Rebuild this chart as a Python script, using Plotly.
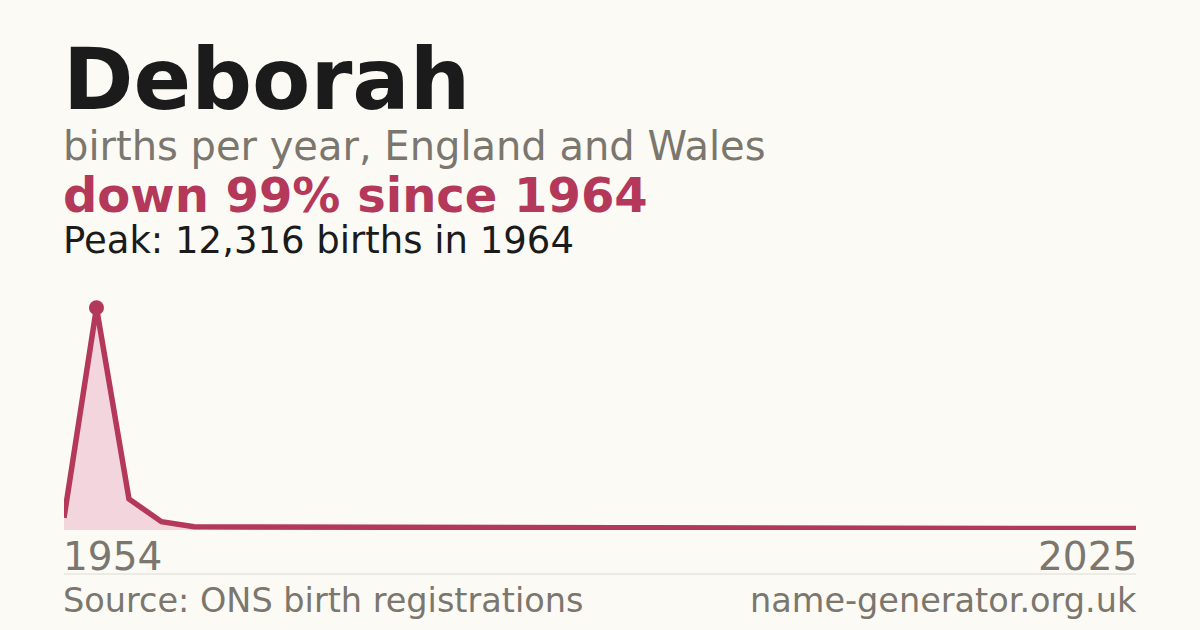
import plotly.graph_objects as go

# births per year for "Deborah" (ONS)
years = [1954, 1964, 1974, 1984] + list(range(1996, 2026))
births = [680, 12316, 1720, 460,
          180, 170, 165, 160, 150, 150, 145, 140, 140, 135,
          130, 130, 125, 120, 120, 115, 115, 110, 105, 105,
          100, 100, 95, 95, 90, 90, 85, 85, 80, 80]
name = "Deborah"
subtitle = "births per year, England and Wales"
change_text = "down 99% since 1964"
peak_text = "Peak: 12,316 births in 1964"
source_text = "Source: ONS birth registrations"
site_text = "name-generator.org.uk"

BG = "#fbfaf5"
CRIMSON = "#b3385a"
PINK = "#f3d6dd"
GREY = "#7b766e"
INK = "#1b1b1b"
FONT = "DejaVu Sans"

labels = [str(y) for y in years]
peak_i = births.index(max(births))

fig = go.Figure()
fig.add_trace(go.Scatter(
    x=labels, y=births, mode="lines",
    line=dict(color=CRIMSON, width=5.5),
    fill="tozeroy", fillcolor=PINK,
    hoverinfo="skip",
))
fig.add_trace(go.Scatter(
    x=[labels[peak_i]], y=[births[peak_i]], mode="markers",
    marker=dict(color=CRIMSON, size=15),
    hoverinfo="skip",
))

# plot area spans y pixels 290..530
def py(pix):
    return (530 - pix) / 240

def note(text, x, ybot, size, color, bold=False, xanchor="left", xref="paper"):
    fig.add_annotation(
        text=f"<b>{text}</b>" if bold else text,
        x=x, xref=xref, y=py(ybot), yref="paper",
        xanchor=xanchor, yanchor="bottom", showarrow=False,
        xshift=-3 if xanchor == "left" else 3,
        font=dict(family=FONT, size=size, color=color),
    )

note(name, 0, 131, 85, INK, bold=True)
note(subtitle, 0, 171, 40, GREY)
note(change_text, 0, 225, 48, CRIMSON, bold=True)
note(peak_text, 0, 264, 37, INK)
# category axis: annotate by index so the year strings aren't read as numbers
note(labels[0], 0, 581, 39, GREY, xref="x")
note(labels[-1], len(labels) - 1, 581, 39, GREY, xanchor="right", xref="x")
note(source_text, 0, 622, 33.5, GREY)
note(site_text, 1, 622, 33.5, GREY, xanchor="right")

fig.add_shape(type="line", xref="paper", yref="paper",
              x0=0, x1=1, y0=py(574), y1=py(574),
              line=dict(color="#dcdad4", width=1))

fig.update_layout(
    width=1200, height=630,
    margin=dict(l=64, r=64, t=290, b=100),
    paper_bgcolor=BG, plot_bgcolor=BG,
    showlegend=False,
    xaxis=dict(type="category", range=[0, len(labels) - 1],
               showgrid=False, zeroline=False, showticklabels=False,
               fixedrange=True),
    yaxis=dict(range=[0, max(births) * 1.08], showgrid=False,
               zeroline=False, showticklabels=False, fixedrange=True),
)

js = "document.body.style.margin = '0'; document.body.style.backgroundColor = '%s';" % BG
fig.write_html("out.html", config={"displayModeBar": False}, post_script=[js])
